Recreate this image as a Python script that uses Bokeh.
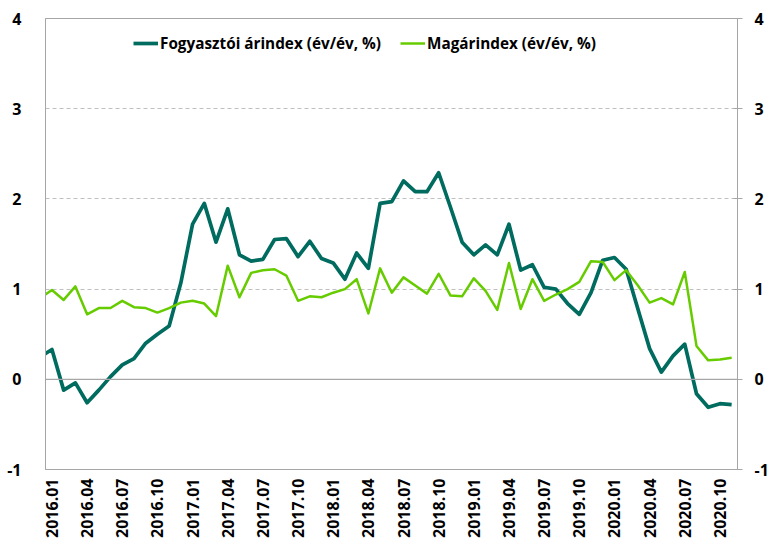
from bokeh.plotting import figure
from bokeh.models import (Range1d, LinearAxis, FixedTicker, Span, Legend, LegendItem)
from bokeh.embed import file_html
from bokeh.resources import INLINE

# month index: -1 = 2015.12, 0 = 2016.01 ... 58 = 2020.11
month_index = list(range(-1, 59))

cpi = [0.25, 0.33, -0.12, -0.04, -0.26, -0.12, 0.03, 0.16, 0.23, 0.40, 0.50,
       0.59, 1.07, 1.72, 1.95, 1.52, 1.89, 1.38, 1.31, 1.33, 1.55,
       1.56, 1.36, 1.53, 1.34, 1.29, 1.11, 1.40, 1.23, 1.95, 1.97,
       2.20, 2.08, 2.08, 2.29, 1.91, 1.52, 1.38, 1.49, 1.38, 1.72,
       1.21, 1.27, 1.02, 1.00, 0.84, 0.72, 0.96, 1.32, 1.35, 1.22,
       0.78, 0.34, 0.08, 0.26, 0.39, -0.16, -0.31, -0.27, -0.28]

core = [0.90, 0.99, 0.88, 1.03, 0.72, 0.79, 0.79, 0.87, 0.80, 0.79, 0.74,
        0.79, 0.85, 0.87, 0.84, 0.70, 1.26, 0.91, 1.18, 1.21, 1.22,
        1.15, 0.87, 0.92, 0.91, 0.96, 1.00, 1.11, 0.73, 1.23, 0.96,
        1.13, 1.04, 0.95, 1.17, 0.93, 0.92, 1.12, 0.98, 0.77, 1.29,
        0.78, 1.11, 0.87, 0.94, 1.00, 1.08, 1.31, 1.30, 1.10, 1.21,
        1.04, 0.85, 0.90, 0.83, 1.19, 0.37, 0.21, 0.22, 0.24]

tick_positions = [0, 3, 6, 9, 12, 15, 18, 21, 24, 27, 30, 33, 36, 39, 42, 45, 48, 51, 54, 57]
tick_labels = ["2016.01", "2016.04", "2016.07", "2016.10",
               "2017.01", "2017.04", "2017.07", "2017.10",
               "2018.01", "2018.04", "2018.07", "2018.10",
               "2019.01", "2019.04", "2019.07", "2019.10",
               "2020.01", "2020.04", "2020.07", "2020.10"]

y_ticks = [-1, 0, 1, 2, 3, 4]
y_labels = ["-1", "0", "1", "2", "3", "4"]

series_names = ["Fogyasztói árindex (év/év, %)", "Magárindex (év/év, %)"]

TEAL = "#006B5F"
GREEN = "#66CC00"
GRAY = "#A6A6A6"
FONT = "Open Sans"

p = figure(width=771, height=550, output_backend="svg", toolbar_location=None,
           x_range=Range1d(-0.55, 58.5), y_range=Range1d(-1, 4),
           min_border_left=45, min_border_right=34, min_border_top=18, min_border_bottom=81)
p.extra_y_ranges = {"right": Range1d(-1, 4)}

p.outline_line_color = GRAY
p.outline_line_width = 1
p.background_fill_color = "white"
p.border_fill_color = "white"

p.xgrid.visible = False
p.ygrid.ticker = FixedTicker(ticks=[1, 2, 3])
p.ygrid.grid_line_color = "#C0C0C0"
p.ygrid.grid_line_dash = "4 3"
p.ygrid.grid_line_width = 1

p.add_layout(Span(location=0, dimension="width", line_color=GRAY, line_width=1.3))

l1 = p.line(month_index, cpi, line_color=TEAL, line_width=3.7, line_join="round")
l2 = p.line(month_index, core, line_color=GREEN, line_width=2.5, line_join="round")

# x axis
xa = p.xaxis[0]
xa.ticker = FixedTicker(ticks=tick_positions)
xa.major_label_overrides = {pos: lab for pos, lab in zip(tick_positions, tick_labels)}
xa.major_label_orientation = 3.14159265 / 2
xa.major_tick_line_color = None
xa.minor_tick_line_color = None
xa.axis_line_color = GRAY
xa.major_label_text_font = FONT
xa.major_label_text_font_style = "bold"
xa.major_label_text_font_size = "16px"
xa.major_label_text_color = "#000000"
xa.major_label_standoff = 3

# left axis
ya = p.yaxis[0]
ya.ticker = FixedTicker(ticks=y_ticks)
ya.major_label_overrides = {t: s for t, s in zip(y_ticks, y_labels)}
ya.major_tick_line_color = None
ya.minor_tick_line_color = None
ya.axis_line_color = GRAY
ya.major_label_text_font = FONT
ya.major_label_text_font_style = "bold"
ya.major_label_text_font_size = "16px"
ya.major_label_text_color = "#000000"
ya.major_label_standoff = 18

# right axis
ra = LinearAxis(y_range_name="right", ticker=FixedTicker(ticks=y_ticks))
ra.major_label_overrides = {t: s for t, s in zip(y_ticks, y_labels)}
ra.major_tick_line_color = GRAY
ra.major_tick_in = 4
ra.major_tick_out = 5
ra.minor_tick_line_color = None
ra.axis_line_color = GRAY
ra.major_label_text_font = FONT
ra.major_label_text_font_style = "bold"
ra.major_label_text_font_size = "16px"
ra.major_label_text_color = "#000000"
ra.major_label_standoff = 12
p.add_layout(ra, "right")

legend = Legend(items=[LegendItem(label=series_names[0], renderers=[l1]),
                       LegendItem(label=series_names[1], renderers=[l2])],
                orientation="horizontal", location=(88, 416))
legend.background_fill_alpha = 0
legend.border_line_color = None
legend.padding = 0
legend.margin = 0
legend.spacing = 19
legend.glyph_width = 25
legend.glyph_height = 20
legend.label_height = 20
legend.label_standoff = 2
legend.label_text_font = FONT
legend.label_text_font_style = "bold"
legend.label_text_font_size = "15.3px"
legend.label_text_color = "#000000"
p.add_layout(legend)

open("out.html", "w").write(file_html(p, INLINE))
